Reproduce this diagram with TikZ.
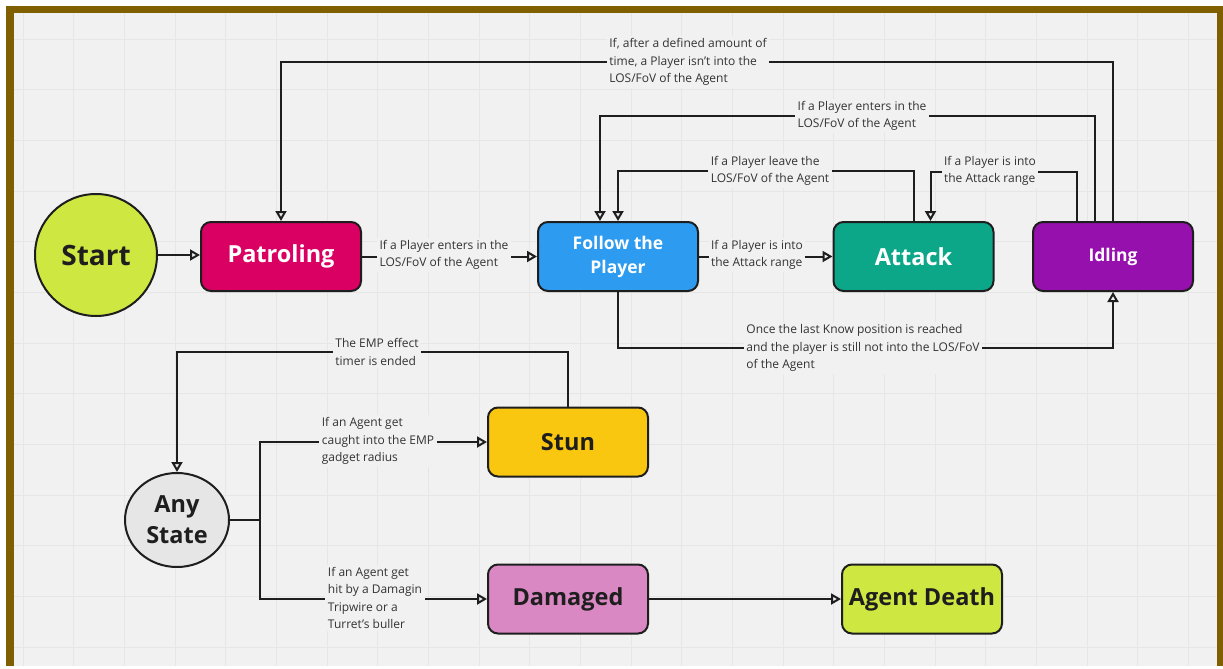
\documentclass[tikz,border=0pt]{standalone}
\usepackage{fontspec}
\setmainfont{Open Sans}
\usetikzlibrary{arrows.meta,shapes.geometric}
\definecolor{bg}{HTML}{F1F1F1}
\definecolor{gridc}{HTML}{E6E6E6}
\definecolor{frame}{HTML}{7F5F00}
\definecolor{edge}{HTML}{1E1E1E}
\definecolor{labc}{HTML}{333333}
\definecolor{cStart}{HTML}{CEE741}
\definecolor{cPatrol}{HTML}{DA0063}
\definecolor{cFollow}{HTML}{2D9BF0}
\definecolor{cAttack}{HTML}{0CA789}
\definecolor{cIdle}{HTML}{9510AC}
\definecolor{cStun}{HTML}{FAC710}
\definecolor{cAny}{HTML}{E6E6E6}
\definecolor{cDam}{HTML}{DA88C3}
\definecolor{cDeath}{HTML}{CEE741}
\newcommand{\apos}{{\char"27}}
\begin{document}
\begin{tikzpicture}[x=1pt,y=-1pt,
  box/.style={draw=edge, line width=2pt, rounded corners=10pt, minimum width=160pt, minimum height=69pt, inner sep=0pt, align=center, font=\bfseries\fontsize{23.5}{26}\selectfont},
  smallbox/.style={box, font=\bfseries\fontsize{17.5}{24}\selectfont},
  conn/.style={draw=edge, line width=2pt},
  arr/.style={conn, -{Triangle[open, length=10pt, width=11pt]}},
  lab/.style={fill=bg, inner sep=2.5pt, align=left, text=labc, font=\fontsize{12}{17.5}\selectfont}
]
\useasboundingbox (0,0) rectangle (1223,669);
\fill[white] (0,0) rectangle (1223,669);
\fill[frame] (6,6) rectangle (1223,666);
\fill[bg] (14,13) rectangle (1217,666);
\foreach \i in {0,...,23} \draw[gridc, line width=0.8pt] ({23+50.67*\i},13) -- ({23+50.67*\i},666);
\foreach \j in {0,...,12} \draw[gridc, line width=0.8pt] (14,{39+50.67*\j}) -- (1217,{39+50.67*\j});

% nodes
\node[circle, draw=edge, line width=2pt, fill=cStart, minimum size=122pt, inner sep=0pt, text=edge, font=\bfseries\fontsize{28}{30}\selectfont] (start) at (96,255) {Start};
\node[box, fill=cPatrol, text=white] (patrol) at (281,256.5) {Patroling};
\node[smallbox, fill=cFollow, text=white] (follow) at (618,256.5) {Follow the\\Player};
\node[box, fill=cAttack, text=white] (attack) at (913.5,256.5) {Attack};
\node[smallbox, fill=cIdle, text=white] (idle) at (1113,256.5) {Idling};
\node[box, fill=cStun, text=edge] (stun) at (568,442) {Stun};
\node[ellipse, draw=edge, line width=2pt, fill=cAny, minimum width=104pt, minimum height=94pt, inner sep=0pt, align=center, text=edge, font=\bfseries\fontsize{23.5}{31}\selectfont] (any) at (177,520) {Any\\State};
\node[box, fill=cDam, text=edge] (dam) at (568,599) {Damaged};
\node[box, fill=cDeath, text=edge] (death) at (922,599) {Agent Death};

% helper coordinates
\coordinate (j) at (260,520);
\path ([xshift=-18pt]idle.north) coordinate (i2)
      ([xshift=-36pt]idle.north) coordinate (i3)
      ([xshift=-18pt]follow.north) coordinate (f2)
      ([xshift=17pt]attack.north) coordinate (a2);

% connectors
\draw[arr] (start.east) -- (patrol.west |- start.east);
\draw[arr] (patrol.east) -- (follow.west);
\draw[arr] (follow.east) -- (attack.west);
\draw[arr] (idle.north) -- (idle.north |- 0,62) -- (patrol.north |- 0,62) -- (patrol.north);
\draw[arr] (i2) -- (i2 |- 0,116) -- (f2 |- 0,116) -- (f2);
\draw[arr] (attack.north) -- (attack.north |- 0,171) -- (follow.north |- 0,171) -- (follow.north);
\draw[arr] (i3) -- (i3 |- 0,172) -- (a2 |- 0,172) -- (a2);
\draw[arr] (follow.south) -- (follow.south |- 0,348) -- (idle.south |- 0,348) -- (idle.south);
\draw[arr] (stun.north) -- (stun.north |- 0,352) -- (any.north |- 0,352) -- (any.north);
\draw[conn] (any.east) -- (j);
\draw[arr] (j) |- (stun.west);
\draw[arr] (j) |- (dam.west);
\draw[arr] (dam.east) -- (death.west);

% labels
\node[lab] (l2) at (444,255) {If a Player enters in the\\LOS/FoV of the Agent};
\node[lab] (l3) at (757,255) {If a Player is into\\the Attack range};
\node[lab] (l4) at (688,62) {If, after a defined amount of\\time, a Player isn\apos t into the\\LOS/FoV of the Agent};
\node[lab] (l5) at (862,116) {If a Player enters in the\\LOS/FoV of the Agent};
\node[lab] (l6) at (770,171) {If a Player leave the\\LOS/FoV of the Agent};
\node[lab] (l7) at (990,171) {If a Player is into\\the Attack range};
\node[lab] (l8) at (863,348) {Once the last Know position is reached\\and the player is still not into the LOS/FoV\\of the Agent};
\node[lab] (l9) at (377,352) {The EMP effect\\timer is ended};
\node[lab] (l10) at (378,441) {If an Agent get\\caught into the EMP\\gadget radius};
\node[lab] (l11) at (375,598) {If an Agent get\\hit by a Damagin\\Tripwire or a\\Turret\apos s buller};
\end{tikzpicture}
\end{document}
